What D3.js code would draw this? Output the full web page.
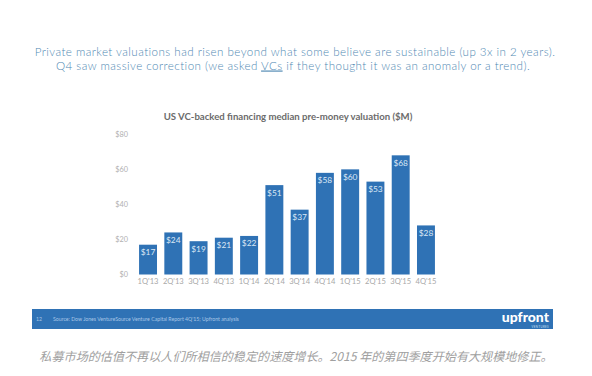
<!DOCTYPE html>
<html>
<head>
<meta charset="utf-8">
<script src="https://cdn.jsdelivr.net/npm/d3@7"></script>
<style>
  html, body { margin: 0; padding: 0; background: #fff; }
  svg { display: block; }
</style>
</head>
<body>
<svg id="chart" width="592" height="376"></svg>
<script>
const categories = ["1Q'13","2Q'13","3Q'13","4Q'13","1Q'14","2Q'14","3Q'14","4Q'14","1Q'15","2Q'15","3Q'15","4Q'15"];
const values = [17, 24, 19, 21, 22, 51, 37, 58, 60, 53, 68, 28];
const yTicks = [0, 20, 40, 60, 80];
const headline1 = "Private market valuations had risen beyond what some believe are sustainable (up 3x in 2 years).";
const headline2a = "Q4 saw massive correction (we asked ";
const headline2b = "VCs";
const headline2c = " if they thought it was an anomaly or a trend).";
const chartTitle = "US VC-backed financing median pre-money valuation ($M)";
const pageNum = "12";
const sourceText = "Source: Dow Jones VentureSource Venture Capital Report 4Q'15; Upfront analysis";
const caption = "私募市场的估值不再以人们所相信的稳定的速度增长。2015 年的第四季度开始有大规模地修正。";

const svg = d3.select("#chart");
const barColor = "#2f72b5";
const font = "Lato, 'Open Sans', sans-serif";

// headline
svg.append("text").attr("x", 295).attr("y", 55.5).attr("text-anchor", "middle")
  .style("font-family", font).style("font-size", "11.6px").style("font-weight", 300)
  .style("letter-spacing", "0.45px")
  .attr("fill", "#5089b3").text(headline1);
const h2 = svg.append("text").attr("x", 293).attr("y", 69.5).attr("text-anchor", "middle")
  .style("font-family", font).style("font-size", "11.6px").style("font-weight", 300)
  .style("letter-spacing", "0.45px")
  .attr("fill", "#5089b3");
h2.append("tspan").text(headline2a);
h2.append("tspan").style("text-decoration", "underline").text(headline2b);
h2.append("tspan").text(headline2c);

// chart title
svg.append("text").attr("x", 288).attr("y", 120).attr("text-anchor", "middle")
  .style("font-family", font).style("font-size", "9.6px").style("font-weight", 700)
  .attr("fill", "#6b6b6b").text(chartTitle);

const x = d3.scaleBand().domain(categories).range([135.4, 438.6]).paddingInner(0.29).paddingOuter(0.145);
const y = d3.scaleLinear().domain([0, 80]).range([274.5, 134.3]);

// y axis
const yAxis = svg.append("g").attr("transform", "translate(128,0)")
  .call(d3.axisLeft(y).tickValues(yTicks).tickSize(0).tickPadding(0).tickFormat(d => "$" + d));
yAxis.select(".domain").remove();
yAxis.selectAll("text").style("font-family", font).style("font-size", "7.3px")
  .attr("fill", "#b0b0b0");

// x axis
const xAxis = svg.append("g").attr("transform", "translate(0,279)")
  .call(d3.axisBottom(x).tickSize(0).tickPadding(0));
xAxis.select(".domain").remove();
xAxis.selectAll("text").style("font-family", font).style("font-size", "7.6px")
  .attr("fill", "#a8a8a8");

// bars
svg.append("g").selectAll("rect").data(values).join("rect")
  .attr("x", (d, i) => x(categories[i]))
  .attr("y", d => y(d))
  .attr("width", x.bandwidth())
  .attr("height", d => y(0) - y(d))
  .attr("fill", barColor);

svg.append("g").selectAll("text").data(values).join("text")
  .attr("x", (d, i) => x(categories[i]) + x.bandwidth() / 2)
  .attr("y", d => y(d) + 10.5)
  .attr("text-anchor", "middle")
  .style("font-family", font).style("font-size", "8.4px")
  .attr("fill", "#dce8f5").text(d => "$" + d);

// footer band
svg.append("rect").attr("x", 32).attr("y", 309).attr("width", 521).attr("height", 20).attr("fill", "#2f72b5");
svg.append("text").attr("x", 36).attr("y", 321).style("font-family", font).style("font-size", "5.2px")
  .attr("fill", "#a9c6e6").text(pageNum);
svg.append("text").attr("x", 53).attr("y", 321).style("font-family", font).style("font-size", "5.2px")
  .attr("fill", "#a9c6e6").text(sourceText);
svg.append("text").attr("x", 549).attr("y", 322).attr("text-anchor", "end")
  .style("font-family", font).style("font-size", "14px").style("font-weight", 900)
  .attr("fill", "#ffffff").text("upfront");
svg.append("text").attr("x", 549).attr("y", 327.5).attr("text-anchor", "end")
  .style("font-family", font).style("font-size", "2.8px").style("letter-spacing", "0.4px")
  .attr("fill", "#cfe0f2").text("VENTURES");

// caption
svg.append("text").attr("x", 296).attr("y", 361).attr("text-anchor", "middle")
  .style("font-family", "'Noto Sans CJK SC', sans-serif").style("font-size", "12.1px").style("font-style", "italic")
  .attr("fill", "#a0a0a0").text(caption);
</script>
</body>
</html>
